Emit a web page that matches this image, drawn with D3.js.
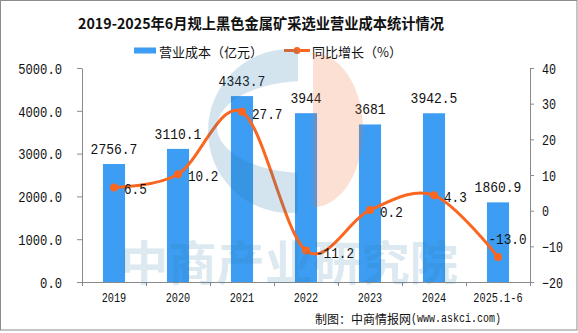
<!DOCTYPE html>
<html>
<head>
<meta charset="utf-8">
<style>
  html, body { margin: 0; padding: 0; background: #fff; }
  svg { display: block; }
  .num { font-family: "Liberation Mono", "DejaVu Sans Mono", monospace; fill: #111; }
  .cjk { font-family: "Noto Sans CJK SC", sans-serif; fill: #111; }
  .axis path, .axis line { stroke: #8a8a8a; }
  .axis text { font-family: "Liberation Mono", "DejaVu Sans Mono", monospace; fill: #111; }
</style>
</head>
<body>
<div id="chart"></div>
<script src="https://d3js.org/d3.v7.min.js"></script>
<script>

var categories = ["2019", "2020", "2021", "2022", "2023", "2024", "2025.1-6"];
var costValues = [2756.7, 3110.1, 4343.7, 3944, 3681, 3942.5, 1860.9];
var growthValues = [6.5, 10.2, 27.7, -11.2, 0.2, 4.3, -13.0];
var leftTicks = [0, 1000, 2000, 3000, 4000, 5000];
var rightTicks = [-20, -10, 0, 10, 20, 30, 40];

var width = 578, height = 333;
var plot = {left: 82, right: 530, top: 68, bottom: 282};

// narrow, tall digits: squeeze the mono face to a fixed width per character
function fitMono(sel, size, charW) {
  sel.attr("font-size", size)
    .attr("lengthAdjust", "spacingAndGlyphs")
    .attr("textLength", function() { return this.textContent.length * charW; });
}

var svg = d3.select("#chart").append("svg")
    .attr("width", width)
    .attr("height", height);

// outer frame
svg.append("rect")
    .attr("x", 0.5).attr("y", 0.5)
    .attr("width", width - 1.5).attr("height", 329.5)
    .attr("fill", "#fff")
    .attr("stroke", "#8c8c8c");

var x = d3.scaleBand()
    .domain(categories)
    .range([plot.left, plot.right]);

var yL = d3.scaleLinear().domain([0, 5000]).range([plot.bottom, plot.top]);
var yR = d3.scaleLinear().domain([-20, 40]).range([plot.bottom, plot.top]);

var barW = x.bandwidth() * 0.345;
var cx = function(c) { return x(c) + x.bandwidth() / 2; };

// bars
svg.append("g").selectAll("rect")
    .data(categories)
  .enter().append("rect")
    .attr("x", function(d) { return cx(d) - barW / 2; })
    .attr("width", barW)
    .attr("y", function(d, i) { return yL(costValues[i]); })
    .attr("height", function(d, i) { return yL(0) - yL(costValues[i]); })
    .attr("fill", "#3d9df2");

// left axis
svg.append("g")
    .attr("class", "axis")
    .attr("transform", "translate(" + plot.left + ",0)")
    .call(d3.axisLeft(yL).tickValues(leftTicks).tickFormat(d3.format(".1f")).tickSize(5).tickPadding(15).tickSizeOuter(0))
    .call(function(g) { g.selectAll("text").attr("dy", "0.36em").call(fitMono, 14.5, 7.3); });

// right axis
svg.append("g")
    .attr("class", "axis")
    .attr("transform", "translate(" + plot.right + ",0)")
    .call(d3.axisRight(yR).tickValues(rightTicks).tickSize(4).tickPadding(8).tickSizeOuter(0))
    .call(function(g) { g.selectAll("text").attr("dy", "0.36em").call(fitMono, 14.5, 7); });

// category axis: ticks at band edges, labels centred
var xAxis = svg.append("g").attr("class", "axis");
xAxis.append("line")
    .attr("x1", plot.left).attr("x2", plot.right)
    .attr("y1", plot.bottom + 0.5).attr("y2", plot.bottom + 0.5);
xAxis.selectAll(".edge")
    .data(categories.map(function(c) { return x(c); }).concat([plot.right]))
  .enter().append("line")
    .attr("class", "edge")
    .attr("x1", function(d) { return Math.round(d) + 0.5; })
    .attr("x2", function(d) { return Math.round(d) + 0.5; })
    .attr("y1", plot.bottom)
    .attr("y2", plot.bottom + 4);
xAxis.selectAll(".cat")
    .data(categories)
  .enter().append("text")
    .attr("class", "cat")
    .attr("x", function(d) { return cx(d) - d.length * 3.08; })
    .attr("y", plot.bottom + 20)
    .text(function(d) { return d; })
    .call(fitMono, 13, 6.15);

// bar value labels
svg.append("g").selectAll("text")
    .data(categories)
  .enter().append("text")
    .attr("class", "num")
    .text(function(d, i) { return String(costValues[i]); })
    .attr("x", function(d, i) { return cx(d) - String(costValues[i]).length * 3.9; })
    .attr("y", function(d, i) { return yL(costValues[i]) - 10; })
    .call(fitMono, 15, 7.8);

// growth line
var line = d3.line()
    .x(function(d, i) { return cx(categories[i]); })
    .y(function(d) { return yR(d); })
    .curve(d3.curveCardinal.tension(0));

svg.append("path")
    .datum(growthValues)
    .attr("d", line)
    .attr("fill", "none")
    .attr("stroke", "#fb6621")
    .attr("stroke-width", 3);

svg.append("g").selectAll("circle")
    .data(growthValues)
  .enter().append("circle")
    .attr("cx", function(d, i) { return cx(categories[i]); })
    .attr("cy", function(d) { return yR(d); })
    .attr("r", 4)
    .attr("fill", "#fb6621");

// growth labels sit right of the point; the last one goes above it
var last = growthValues.length - 1;
svg.append("g").selectAll("text")
    .data(growthValues)
  .enter().append("text")
    .attr("class", "num")
    .text(function(d) { return d.toFixed(1); })
    .attr("x", function(d, i) {
      var px = cx(categories[i]);
      return i === last ? px + 10 - d.toFixed(1).length * 3.9 : px + 10;
    })
    .attr("y", function(d, i) { return yR(d) + (i === last ? -13 : 7); })
    .call(fitMono, 15, 7.6);

// title
svg.append("text")
    .attr("class", "cjk")
    .attr("x", 78).attr("y", 22)
    .attr("dominant-baseline", "central")
    .attr("font-size", 15)
    .attr("font-weight", "bold")
    .attr("textLength", 366)
    .attr("lengthAdjust", "spacingAndGlyphs")
    .text("2019-2025年6月规上黑色金属矿采选业营业成本统计情况");

// legend
var legend = svg.append("g");
legend.append("rect")
    .attr("x", 134).attr("y", 47.5)
    .attr("width", 22).attr("height", 6)
    .attr("fill", "#3d9df2");
legend.append("text")
    .attr("class", "cjk")
    .attr("x", 159).attr("y", 51)
    .attr("dominant-baseline", "central")
    .attr("font-size", 13)
    .text("营业成本（亿元）");
legend.append("line")
    .attr("x1", 284).attr("x2", 310)
    .attr("y1", 50.5).attr("y2", 50.5)
    .attr("stroke", "#fb6621").attr("stroke-width", 3);
legend.append("circle")
    .attr("cx", 297).attr("cy", 50.5).attr("r", 3.5)
    .attr("fill", "#fb6621");
legend.append("text")
    .attr("class", "cjk")
    .attr("x", 312).attr("y", 51)
    .attr("dominant-baseline", "central")
    .attr("font-size", 13)
    .text("同比增长（%）");

// watermark logo and text, laid over the marks
var wm = svg.append("g").attr("pointer-events", "none");
var defs = svg.append("defs");
defs.append("clipPath").attr("id", "cLeft")
  .append("rect").attr("x", 150).attr("y", 30).attr("width", 148).attr("height", 200);
defs.append("mask").attr("id", "cHole")
  .call(function(m) {
    m.append("rect").attr("x", 0).attr("y", 0).attr("width", width).attr("height", height).attr("fill", "#fff");
    m.append("ellipse").attr("cx", 306).attr("cy", 127).attr("rx", 89).attr("ry", 46).attr("fill", "#000");
  });
wm.append("circle")
    .attr("cx", 290).attr("cy", 131).attr("r", 82)
    .attr("clip-path", "url(#cLeft)")
    .attr("mask", "url(#cHole)")
    .attr("fill", "rgb(40,120,170)")
    .attr("fill-opacity", 0.2);
wm.append("path")
    .attr("d", "M313,53 A50,77 0 0 1 313,207 Z")
    .attr("fill", "rgb(239,115,55)")
    .attr("fill-opacity", 0.22);
wm.append("text")
    .attr("x", 120).attr("y", 259)
    .attr("dominant-baseline", "central")
    .attr("font-family", "Noto Sans CJK SC, sans-serif")
    .attr("font-weight", "bold")
    .attr("font-size", 47)
    .attr("textLength", 338)
    .attr("lengthAdjust", "spacingAndGlyphs")
    .attr("fill", "rgb(40,120,170)")
    .attr("fill-opacity", 0.18)
    .text("中商产业研究院");

// source note
var note = svg.append("g");
note.append("text")
    .attr("class", "cjk")
    .attr("x", 315).attr("y", 318)
    .attr("dominant-baseline", "central")
    .attr("font-size", 12)
    .text("制图：中商情报网");
note.append("text")
    .attr("class", "num")
    .attr("x", 411).attr("y", 322)
    .text("(www.askci.com)")
    .call(fitMono, 12, 6);

</script>
</body>
</html>
